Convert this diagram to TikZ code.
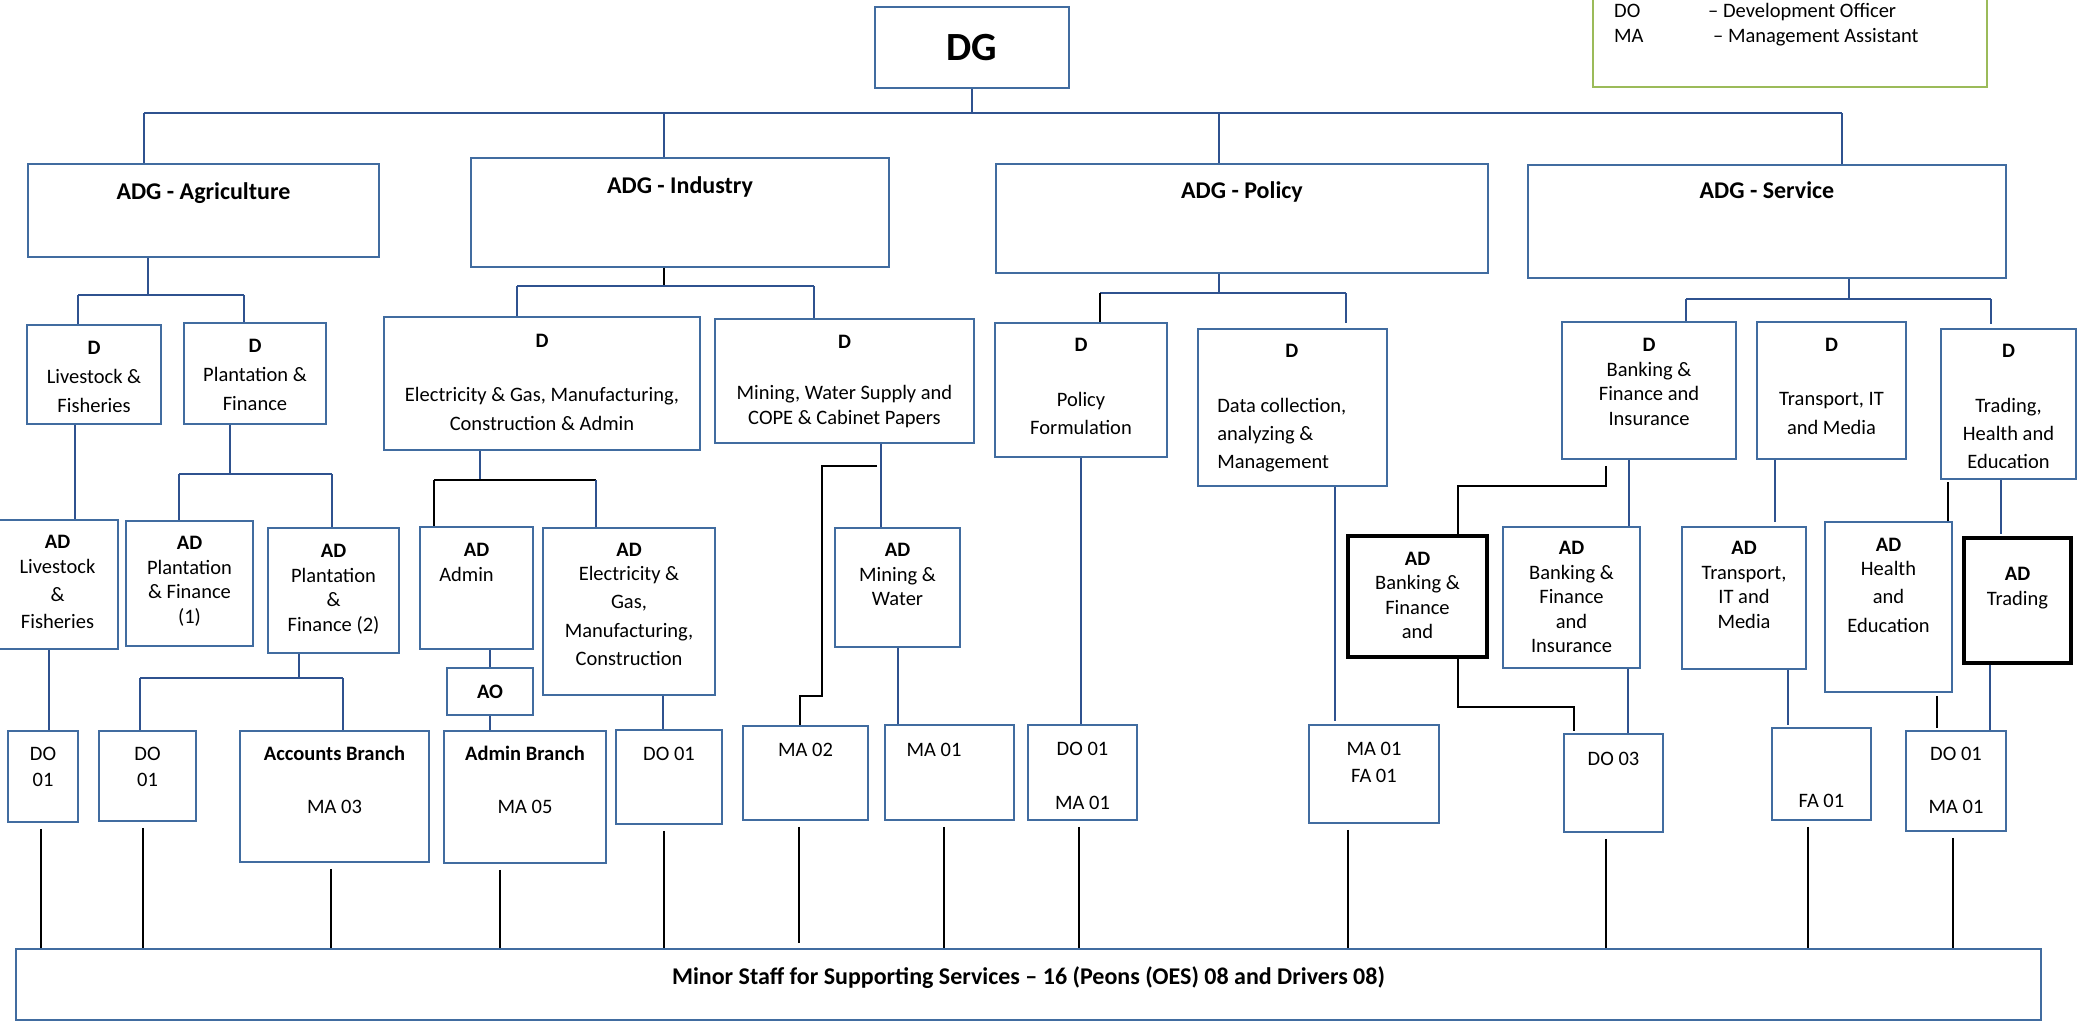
\documentclass[tikz,border=0pt]{standalone}
\usepackage{fontspec}
\setmainfont{Carlito}
\usepackage{tikz}
\usetikzlibrary{calc}
\usetikzlibrary{positioning}

\definecolor{boxblue}{RGB}{65,108,160}
\definecolor{linkblue}{RGB}{47,82,143}
\definecolor{legendgreen}{RGB}{155,187,89}

\begin{document}
\begin{tikzpicture}[x=1pt, y=-1pt, font=\fontsize{20.5}{24.5}\selectfont,
        box_style/.style={rectangle,draw=boxblue,line width=1.8pt,inner sep=0pt},
        bold_box_style/.style={rectangle,draw=black,line width=3.6pt,inner sep=0pt},
        legend_style/.style={rectangle,draw=legendgreen,line width=1.8pt},
        text_style/.style={align=center,inner sep=0pt},
        title_style/.style={inner sep=0pt,font=\fontsize{24}{29}\selectfont\bfseries},
        link_style/.style={draw=linkblue,line width=1.8pt},
        bar_style/.style={draw=linkblue,line width=2.8pt},
        black_link_style/.style={draw=black,line width=1.4pt},
        staff_link_style/.style={draw=black,line width=1.6pt,shorten <=6pt}]

        \useasboundingbox (0,0) rectangle (2078,1025);

        % top level
        \node [box_style,minimum width=194pt,minimum height=81pt](dg) at (972,47.5) {\fontsize{40}{48}\selectfont\bfseries DG};

        \node [legend_style,minimum width=394pt,minimum height=107pt](legend) at (1790,33.5) {};
        \node [text_style,anchor=base west](leg_do) at (1614,17.5) {DO};
        \node [text_style,anchor=base west](leg_do_t) at (1708,17.5) {– Development Officer};
        \node [text_style,anchor=base west](leg_ma) at (1614,43) {MA};
        \node [text_style,anchor=base west](leg_ma_t) at (1713,43) {– Management Assistant};

        \node [box_style,minimum width=351pt,minimum height=93pt](adgA) at (203.5,210.5) {};
        \node [title_style,below=19.3pt of adgA.north](adgA_t) {ADG - Agriculture};

        \node [box_style,minimum width=418pt,minimum height=109pt](adgI) at (680,212.5) {};
        \node [title_style,below=19.3pt of adgI.north](adgI_t) {ADG - Industry};

        \node [box_style,minimum width=492pt,minimum height=109pt](adgP) at (1242,218.5) {};
        \node [title_style,below=18.3pt of adgP.north](adgP_t) {ADG - Policy};

        \node [box_style,minimum width=478pt,minimum height=113pt](adgS) at (1767,221.5) {};
        \node [title_style,below=17.3pt of adgS.north](adgS_t) {ADG - Service};

        % agriculture
        \node [box_style,minimum width=134pt,minimum height=99pt](dLiv) at (94,374.5) {};
        \node [text_style,below=17.4pt of dLiv.north](dLiv_t) {\textbf{D}\\[4.5pt]Livestock \&\\[4.5pt]Fisheries};

        \node [box_style,minimum width=142pt,minimum height=101pt](dPlant) at (255,373.5) {};
        \node [text_style,below=17.4pt of dPlant.north](dPlant_t) {\textbf{D}\\[4.5pt]Plantation \&\\[4pt]Finance};

        \node [box_style,minimum width=121pt,minimum height=129pt](adLiv) at (57.5,584.5) {};
        \node [text_style,below=16.4pt of adLiv.north](adLiv_t) {\textbf{AD}\\[0.5pt]Livestock\\[3.5pt]\&\\[2.5pt]Fisheries};

        \node [box_style,minimum width=127pt,minimum height=125pt](adPF1) at (189.5,583.5) {};
        \node [text_style,below=16.4pt of adPF1.north](adPF1_t) {\textbf{AD}\\Plantation\\\& Finance\\(1)};

        \node [box_style,minimum width=131pt,minimum height=125pt](adPF2) at (333.5,590.5) {};
        \node [text_style,below=17.4pt of adPF2.north](adPF2_t) {\textbf{AD}\\Plantation\\\&\\Finance (2)};

        \node [box_style,minimum width=70pt,minimum height=91pt](doLiv) at (43,776.5) {};
        \node [text_style,below=16.4pt of doLiv.north](doLiv_t) {DO\\[1.5pt]01};

        \node [box_style,minimum width=97pt,minimum height=90pt](doPlant) at (147.5,776) {};
        \node [text_style,below=16.4pt of doPlant.north](doPlant_t) {DO\\[1.5pt]01};

        \node [box_style,minimum width=189pt,minimum height=131pt](accBr) at (334.5,796.5) {};
        \node [text_style,below=15.4pt of accBr.north](accBr_t) {\textbf{Accounts Branch}\\[28.5pt]MA 03};

        % industry
        \node [box_style,minimum width=316pt,minimum height=133pt](dElec) at (542,383.5) {};
        \node [text_style,below=18.4pt of dElec.north](dElec_t) {\textbf{D}\\[29.5pt]Electricity \& Gas, Manufacturing,\\[4.5pt]Construction \& Admin};

        \node [box_style,minimum width=259pt,minimum height=124pt](dMin) at (844.5,381) {};
        \node [text_style,below=17.4pt of dMin.north](dMin_t) {\textbf{D}\\[26.5pt]Mining, Water Supply and\\COPE \& Cabinet Papers};

        \node [box_style,minimum width=113pt,minimum height=122pt](adAdmin) at (476.5,588) {};
        \node [text_style,below=17.4pt of adAdmin.north](adAdmin_t) {\textbf{AD}\\\hspace*{-20pt}Admin};

        \node [box_style,minimum width=172pt,minimum height=167pt](adElec) at (629,611.5) {};
        \node [text_style,below=16.4pt of adElec.north](adElec_t) {\textbf{AD}\\[-0.5pt]Electricity \&\\[3.5pt]Gas,\\[4.5pt]Manufacturing,\\[3.5pt]Construction};

        \node [box_style,minimum width=86pt,minimum height=47pt](ao) at (490,691.5) {\textbf{AO}};

        \node [box_style,minimum width=162pt,minimum height=132pt](adminBr) at (525,797) {};
        \node [text_style,below=15.4pt of adminBr.north](adminBr_t) {\textbf{Admin Branch}\\[28.5pt]MA 05};

        \node [box_style,minimum width=106pt,minimum height=94pt](doElec) at (669,777) {};
        \node [text_style,below=17.4pt of doElec.north](doElec_t) {DO 01};

        \node [box_style,minimum width=125pt,minimum height=119pt](adMin) at (897.5,587.5) {};
        \node [text_style,below=16.4pt of adMin.north](adMin_t) {\textbf{AD}\\Mining \&\\Water};

        \node [box_style,minimum width=125pt,minimum height=94pt](ma02) at (805.5,773) {};
        \node [text_style,below=17.4pt of ma02.north](ma02_t) {MA 02};

        \node [box_style,minimum width=129pt,minimum height=95pt](ma01I) at (949.5,772.5) {};
        \node [text_style,below=18.4pt of ma01I.north,xshift=-15.5pt](ma01I_t) {MA 01};

        % policy
        \node [box_style,minimum width=172pt,minimum height=134pt](dPol) at (1081,390) {};
        \node [text_style,below=16.4pt of dPol.north](dPol_t) {\textbf{D}\\[30.5pt]Policy\\[3.5pt]Formulation};

        \node [box_style,minimum width=189pt,minimum height=157pt](dData) at (1292.5,407.5) {};
        \node [text_style,align=left,below right=16.4pt and 20pt of dData.north west](dData_t) {\makebox[149pt]{\textbf{D}}\\[30.5pt]Data collection,\\[3.5pt]analyzing \&\\[3.5pt]Management};

        \node [box_style,minimum width=109pt,minimum height=95pt](doMaP) at (1082.5,772.5) {};
        \node [text_style,below=17.4pt of doMaP.north](doMaP_t) {DO 01\\[29.5pt]MA 01};

        \node [box_style,minimum width=130pt,minimum height=98pt](maFa) at (1374,774) {};
        \node [text_style,below=17.4pt of maFa.north](maFa_t) {MA 01\\[2.5pt]FA 01};

        % service
        \node [box_style,minimum width=174pt,minimum height=137pt](dBank) at (1649,390.5) {};
        \node [text_style,below=17.4pt of dBank.north](dBank_t) {\textbf{D}\\Banking \&\\Finance and\\Insurance};

        \node [box_style,minimum width=149pt,minimum height=137pt](dTrans) at (1831.5,390.5) {};
        \node [text_style,below=17.4pt of dTrans.north](dTrans_t) {\textbf{D}\\[29.5pt]Transport, IT\\[4.5pt]and Media};

        \node [box_style,minimum width=135pt,minimum height=150pt](dTrad) at (2008.5,404) {};
        \begin{scope}
        \clip (dTrad.north west) rectangle ($(dTrad.south east)+(0,-12)$);
        \node [text_style,below=16.4pt of dTrad.north](dTrad_t) {\textbf{D}\\[30.5pt]Trading,\\[3.5pt]Health and\\[3.5pt]Education};
        \end{scope}

        \node [bold_box_style,minimum width=139pt,minimum height=121pt](adBankB) at (1417.5,596.5) {};
        \node [text_style,below=17.4pt of adBankB.north](adBankB_t) {\textbf{AD}\\Banking \&\\Finance\\and};

        \node [box_style,minimum width=137pt,minimum height=141pt](adBank) at (1571.5,597.5) {};
        \node [text_style,below=15.4pt of adBank.north](adBank_t) {\textbf{AD}\\Banking \&\\Finance\\and\\Insurance};

        \node [box_style,minimum width=124pt,minimum height=142pt](adTrans) at (1744,598) {};
        \node [text_style,below=15.4pt of adTrans.north](adTrans_t) {\textbf{AD}\\Transport,\\IT and\\Media};

        \node [box_style,minimum width=127pt,minimum height=170pt](adHealth) at (1888.5,607) {};
        \node [text_style,below=17.4pt of adHealth.north](adHealth_t) {\textbf{AD}\\[-0.5pt]Health\\[3.5pt]and\\[4.5pt]Education};

        \node [bold_box_style,minimum width=107pt,minimum height=125pt](adTrad) at (2017.5,600.5) {};
        \node [text_style,below=30.4pt of adTrad.north](adTrad_t) {\textbf{AD}\\[0.5pt]Trading};

        \node [box_style,minimum width=99pt,minimum height=98pt](do03) at (1613.5,783) {};
        \node [text_style,below=18.4pt of do03.north](do03_t) {DO 03};

        \node [box_style,minimum width=99pt,minimum height=92pt](fa01) at (1821.5,774) {};
        \node [text_style,below=66.4pt of fa01.north](fa01_t) {FA 01};

        \node [box_style,minimum width=100pt,minimum height=100pt](doMaS) at (1956,781) {};
        \node [text_style,below=16.4pt of doMaS.north](doMaS_t) {DO 01\\[28.5pt]MA 01};

        % support staff
        \node [box_style,minimum width=2025pt,minimum height=71pt](minor) at (1028.5,984.5) {};
        \node [title_style,below=18.3pt of minor.north](minor_t) {Minor Staff for Supporting Services – 16 (Peons (OES) 08 and Drivers 08)};

        % top connectors
        \coordinate (top_l) at (144,113);
        \coordinate (top_i) at (664,113);
        \coordinate (top_p) at (1219,113);
        \coordinate (top_r) at (1842,113);
        \draw [bar_style] (top_l) -- (top_r);
        \draw [link_style] (dg.south) -- (dg.south |- top_l);
        \draw [link_style] (top_l) -- (top_l |- adgA.north);
        \draw [link_style] (top_i) -- (top_i |- adgI.north);
        \draw [link_style] (top_p) -- (top_p |- adgP.north);
        \draw [link_style] (top_r) -- (top_r |- adgS.north);

        % agriculture connectors
        \coordinate (agr_m) at (148,295);
        \coordinate (agr_l) at (78,295);
        \coordinate (agr_r) at (244,295);
        \draw [link_style] (agr_m |- adgA.south) -- (agr_m);
        \draw [link_style] (agr_l) -- (agr_r);
        \draw [link_style] (agr_l) -- (agr_l |- dLiv.north);
        \draw [link_style] (agr_r) -- (agr_r |- dPlant.north);
        \draw [link_style] ($(dLiv.south)+(-19,0)$) -- ($(dLiv.south |- adLiv.north)+(-19,0)$);

        \coordinate (pf_m) at (230,474);
        \coordinate (pf_l) at (179,474);
        \coordinate (pf_r) at (332,474);
        \draw [link_style] (pf_m |- dPlant.south) -- (pf_m);
        \draw [link_style] (pf_l) -- (pf_r);
        \draw [link_style] (pf_l) -- (pf_l |- adPF1.north);
        \draw [link_style] (pf_r) -- (pf_r |- adPF2.north);
        \draw [link_style] ($(adLiv.south)+(-8.5,0)$) -- ($(adLiv.south |- doLiv.north)+(-8.5,0)$);

        \coordinate (acc_m) at (299,678);
        \coordinate (acc_l) at (140,678);
        \coordinate (acc_r) at (343,678);
        \draw [link_style] (acc_m |- adPF2.south) -- (acc_m);
        \draw [link_style] (acc_l) -- (acc_r);
        \draw [link_style] (acc_l) -- (acc_l |- doPlant.north);
        \draw [link_style] (acc_r) -- (acc_r |- accBr.north);

        % industry connectors
        \coordinate (ind_m) at (664,286);
        \coordinate (ind_l) at (517,286);
        \coordinate (ind_r) at (814,286);
        \draw [black_link_style] (ind_m |- adgI.south) -- (ind_m);
        \draw [link_style] (ind_l) -- (ind_r);
        \draw [link_style] (ind_l) -- (ind_l |- dElec.north);
        \draw [link_style] (ind_r) -- (ind_r |- dMin.north);

        \coordinate (el_m) at (480,480);
        \coordinate (el_l) at (434,480);
        \coordinate (el_r) at (596,480);
        \draw [link_style] (el_m |- dElec.south) -- (el_m);
        \draw [black_link_style] (el_l) -- (el_r);
        \draw [black_link_style] (el_l) -- (el_l |- adAdmin.north);
        \draw [link_style] (el_r) -- (el_r |- adElec.north);
        \draw [link_style] (ao.north |- adAdmin.south) -- (ao.north);
        \draw [link_style] (ao.south) -- (ao.south |- adminBr.north);
        \draw [link_style] ($(doElec.north |- adElec.south)+(-6,0)$) -- ($(doElec.north)+(-6,0)$);

        \draw [link_style] ($(dMin.south)+(36.5,0)$) -- ($(dMin.south |- adMin.north)+(36.5,0)$);
        \coordinate (ma_k) at (822,696);
        \draw [black_link_style] ($(dMin.south)+(32.5,22)$) -| (ma_k) -| ($(ma02.north)+(-5.5,0)$);
        \draw [link_style] ($(adMin.south)+(0.5,0)$) -- ($(adMin.south |- ma01I.north)+(0.5,0)$);

        % policy connectors
        \coordinate (pol_m) at (1219,293);
        \coordinate (pol_l) at (1100,293);
        \coordinate (pol_r) at (1346,293);
        \draw [link_style] (pol_m |- adgP.south) -- (pol_m);
        \draw [link_style] (pol_l) -- (pol_r);
        \draw [black_link_style] (pol_l) -- (pol_l |- dPol.north);
        \draw [link_style,shorten >=5pt] (pol_r) -- (pol_r |- dData.north);
        \draw [link_style] (dPol.south) -- (dPol.south |- doMaP.north);
        \draw [link_style,shorten >=3pt] ($(dData.south)+(42.5,0)$) -- ($(dData.south |- maFa.north)+(42.5,0)$);

        % service connectors
        \coordinate (ser_m) at (1849,299);
        \coordinate (ser_l) at (1686,299);
        \coordinate (ser_r) at (1991,299);
        \draw [link_style] (ser_m |- adgS.south) -- (ser_m);
        \draw [link_style] (ser_l) -- (ser_r);
        \draw [link_style] (ser_l) -- (ser_l |- dBank.north);
        \draw [link_style,shorten >=4pt] (ser_r) -- (ser_r |- dTrad.north);

        \coordinate (bk_k) at (1458,486);
        \draw [black_link_style] ($(dBank.south)+(-43,6)$) |- (bk_k) -- ($(adBankB.north)+(40.5,0)$);
        \draw [link_style] ($(dBank.south)+(-20,0)$) -- ($(dBank.south |- adBank.north)+(-20,0)$);
        \coordinate (do3_k) at (1574,707);
        \draw [black_link_style,shorten >=2pt] ($(adBankB.south)+(40.5,0)$) |- (do3_k) -- ($(do03.north)+(-39.5,0)$);
        \draw [link_style] ($(do03.north |- adBank.south)+(14.5,0)$) -- ($(do03.north)+(14.5,0)$);

        \draw [link_style,shorten >=4pt] ($(dTrans.south)+(-56.5,0)$) -- ($(dTrans.south |- adTrans.north)+(-56.5,0)$);
        \draw [link_style,shorten >=2pt] ($(adTrans.south)+(44,0)$) -- ($(adTrans.south |- fa01.north)+(44,0)$);
        \draw [black_link_style,shorten >=2pt] ($(adHealth.north)+(59.5,0)$) -- ($(adHealth.north |- dTrad.south)+(59.5,0)$);
        \draw [link_style,shorten >=2pt] ($(dTrad.south)+(-7.5,0)$) -- ($(dTrad.south |- adTrad.north)+(-7.5,0)$);
        \draw [black_link_style,shorten <=3pt,shorten >=2pt] ($(adHealth.south)+(48.5,0)$) -- ($(adHealth.south |- doMaS.north)+(48.5,0)$);
        \draw [link_style] ($(adTrad.south)+(-27.5,0)$) -- ($(adTrad.south |- doMaS.north)+(-27.5,0)$);

        % lines down to the support staff
        \draw [staff_link_style] ($(doLiv.south)+(-2,0)$) -- ($(doLiv.south |- minor.north)+(-2,0)$);
        \draw [staff_link_style] ($(doPlant.south)+(-4.5,0)$) -- ($(doPlant.south |- minor.north)+(-4.5,0)$);
        \draw [staff_link_style] ($(accBr.south)+(-3.5,0)$) -- ($(accBr.south |- minor.north)+(-3.5,0)$);
        \draw [staff_link_style] ($(adminBr.south)+(-25,0)$) -- ($(adminBr.south |- minor.north)+(-25,0)$);
        \draw [staff_link_style] ($(doElec.south)+(-5,0)$) -- ($(doElec.south |- minor.north)+(-5,0)$);
        \draw [staff_link_style,shorten >=5pt] ($(ma02.south)+(-6.5,0)$) -- ($(ma02.south |- minor.north)+(-6.5,0)$);
        \draw [staff_link_style] ($(ma01I.south)+(-5.5,0)$) -- ($(ma01I.south |- minor.north)+(-5.5,0)$);
        \draw [staff_link_style] ($(doMaP.south)+(-3.5,0)$) -- ($(doMaP.south |- minor.north)+(-3.5,0)$);
        \draw [staff_link_style] ($(maFa.south)+(-26,0)$) -- ($(maFa.south |- minor.north)+(-26,0)$);
        \draw [staff_link_style] ($(do03.south)+(-7.5,0)$) -- ($(do03.south |- minor.north)+(-7.5,0)$);
        \draw [staff_link_style] ($(fa01.south)+(-13.5,0)$) -- ($(fa01.south |- minor.north)+(-13.5,0)$);
        \draw [staff_link_style] ($(doMaS.south)+(-3,0)$) -- ($(doMaS.south |- minor.north)+(-3,0)$);

\end{tikzpicture}
\end{document}
